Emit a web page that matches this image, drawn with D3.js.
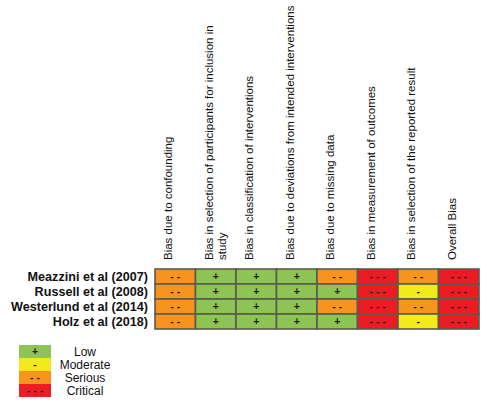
<!DOCTYPE html>
<html>
<head>
<meta charset="utf-8">
<script src="https://cdn.jsdelivr.net/npm/d3@7"></script>
<style>
  html, body { margin: 0; padding: 0; background: #fff; }
  svg { display: block; font-family: Arial, "Liberation Sans", sans-serif; }
</style>
</head>
<body>
<svg id="chart" width="490" height="404"></svg>
<script>
// ---- data ----
const studies = [
  "Meazzini et al (2007)",
  "Russell et al (2008)",
  "Westerlund et al (2014)",
  "Holz et al (2018)"
];
const domains = [
  "Bias due to confounding",
  "Bias in selection of participants for inclusion in\nstudy",
  "Bias in classification of interventions",
  "Bias due to deviations from intended interventions",
  "Bias due to missing data",
  "Bias in measurement of outcomes",
  "Bias in selection of the reported result",
  "Overall Bias"
];
const levels = ["Low", "Moderate", "Serious", "Critical"];
const symbols = ["+", "-", "- -", "- - -"];
const levelColors = ["#8dc453", "#f2ea1c", "#f7941e", "#ec1c24"];
// judgements per study, one per domain
const meazzini   = ["Serious", "Low", "Low", "Low", "Serious", "Critical", "Serious",  "Critical"];
const russell    = ["Serious", "Low", "Low", "Low", "Low",     "Critical", "Moderate", "Critical"];
const westerlund = ["Serious", "Low", "Low", "Low", "Serious", "Critical", "Serious",  "Critical"];
const holz       = ["Serious", "Low", "Low", "Low", "Low",     "Critical", "Moderate", "Critical"];
const judgements = [meazzini, russell, westerlund, holz];

// ---- build ----
const svg = d3.select("#chart");
const x = d3.scaleBand().domain(domains).range([155, 479]);
const y = d3.scaleBand().domain(studies).range([269, 329]);
const color = d3.scaleOrdinal().domain(levels).range(levelColors);
const sym = d3.scaleOrdinal().domain(levels).range(symbols);

const cells = [];
studies.forEach((s, i) => domains.forEach((d, j) => cells.push({study: s, domain: d, level: judgements[i][j]})));

const g = svg.append("g");
g.selectAll("rect.cell").data(cells).join("rect")
  .attr("class", "cell")
  .attr("x", d => x(d.domain))
  .attr("y", d => y(d.study))
  .attr("width", x.bandwidth())
  .attr("height", y.bandwidth())
  .attr("fill", d => color(d.level))
  .attr("stroke", "#5b5b4c")
  .attr("stroke-width", 1.6);

g.selectAll("text.sym").data(cells).join("text")
  .attr("class", "sym")
  .attr("x", d => x(d.domain) + x.bandwidth() / 2)
  .attr("y", d => y(d.study) + y.bandwidth() / 2)
  .attr("dy", "0.35em")
  .attr("text-anchor", "middle")
  .attr("font-size", 10.5)
  .attr("font-weight", "bold")
  .attr("fill", "#222")
  .text(d => sym(d.level));

// row labels
svg.selectAll("text.row").data(studies).join("text")
  .attr("class", "row")
  .attr("x", 148)
  .attr("y", d => y(d) + y.bandwidth() / 2)
  .attr("dy", "0.36em")
  .attr("text-anchor", "end")
  .attr("font-size", 12.6)
  .attr("font-weight", "bold")
  .attr("fill", "#111")
  .text(d => d);

// column headers (rotated)
const hdr = svg.selectAll("g.hdr").data(domains).join("g")
  .attr("class", "hdr")
  .attr("transform", d => `translate(${x(d) + 17},260) rotate(-90)`);
hdr.append("text")
  .attr("font-size", 11.5)
  .attr("fill", "#111")
  .attr("text-anchor", "start")
  .selectAll("tspan").data(d => d.split("\n")).join("tspan")
  .attr("x", 0)
  .attr("dy", (d, i) => i === 0 ? 0 : 13)
  .text(d => d);

// legend
const ly = d3.scaleBand().domain(levels).range([345, 397]);
const leg = svg.append("g");
leg.selectAll("rect").data(levels).join("rect")
  .attr("x", 19)
  .attr("y", d => ly(d))
  .attr("width", 32)
  .attr("height", ly.bandwidth())
  .attr("fill", d => color(d));
leg.selectAll("text.lsym").data(levels).join("text")
  .attr("class", "lsym")
  .attr("x", 35)
  .attr("y", d => ly(d) + ly.bandwidth() / 2)
  .attr("dy", "0.35em")
  .attr("text-anchor", "middle")
  .attr("font-size", 10.5)
  .attr("font-weight", "bold")
  .attr("fill", "#222")
  .text(d => sym(d));
leg.selectAll("text.llab").data(levels).join("text")
  .attr("class", "llab")
  .attr("x", 85)
  .attr("y", d => ly(d) + ly.bandwidth() / 2)
  .attr("dy", "0.36em")
  .attr("text-anchor", "middle")
  .attr("font-size", 12)
  .attr("fill", "#111")
  .text(d => d);
</script>
</body>
</html>
